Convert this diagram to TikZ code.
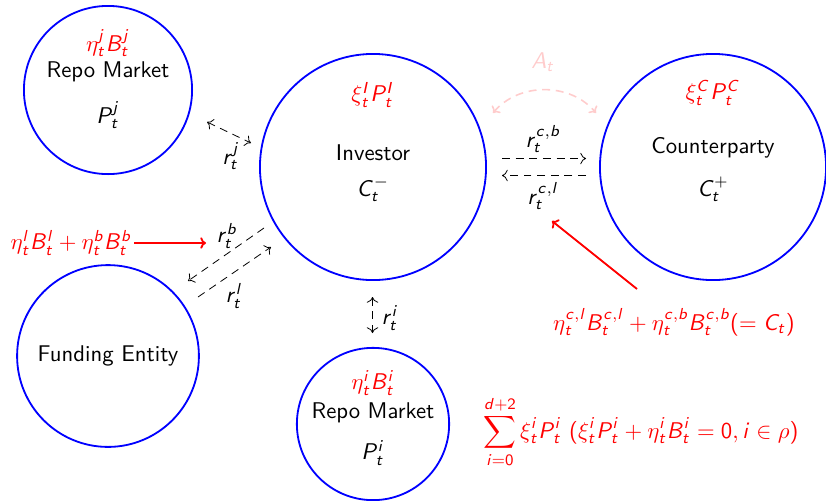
\documentclass[tikz,border=0pt]{standalone}
\usepackage{amsmath}
\usepackage{xcolor}
\usepackage{tikz}
\usetikzlibrary{positioning, arrows, arrows.meta, calc}
\renewcommand{\familydefault}{\sfdefault}
% sans serif math letters and digits, greek stays as it is
\DeclareSymbolFont{sfletters}{OT1}{cmss}{m}{sl}
\SetSymbolFont{operators}{normal}{OT1}{cmss}{m}{n}
\newcommand\sfletter[1]{\DeclareMathSymbol{#1}{\mathalpha}{sfletters}{`#1}}
\sfletter a\sfletter b\sfletter c\sfletter d\sfletter e\sfletter f\sfletter g
\sfletter h\sfletter i\sfletter j\sfletter k\sfletter l\sfletter m\sfletter n
\sfletter o\sfletter p\sfletter q\sfletter r\sfletter s\sfletter t\sfletter u
\sfletter v\sfletter w\sfletter x\sfletter y\sfletter z
\sfletter A\sfletter B\sfletter C\sfletter D\sfletter E\sfletter F\sfletter G
\sfletter H\sfletter I\sfletter J\sfletter K\sfletter L\sfletter M\sfletter N
\sfletter O\sfletter P\sfletter Q\sfletter R\sfletter S\sfletter T\sfletter U
\sfletter V\sfletter W\sfletter X\sfletter Y\sfletter Z

\begin{document}
\begin{tikzpicture}[
      x=0.44pt, y=-0.44pt,
      >={To[length=2.5pt, width=5pt]},
      agent/.style={draw=blue, line width=0.8pt, circle, inner sep=0pt},
      lbl/.style={inner sep=1pt},
      amount/.style={text=red, inner sep=1pt},
      flow/.style={dash pattern=on 3.5pt off 2.5pt, ->, line width=0.35pt},
      cash/.style={red, ->, line width=0.8pt}
    ]
      \useasboundingbox (0,0) rectangle (826,500);
      % circles
      \node[agent, minimum size=74pt] (repoj) at (108,90) {};
      \node[agent, minimum size=99.5pt] (inv) at (373,167) {};
      \node[agent, minimum size=99.5pt] (cpty) at (713,167) {};
      \node[agent, minimum size=80pt] (fund) at (108,356) {};
      \node[agent, minimum size=67pt] (repoi) at (373,424) {};

      % texts inside
      \node[amount] (repojamt) at (108,43) {$\eta_t^j B_t^j$};
      \node[lbl] (repojname) at (108,72) {Repo Market};
      \node[lbl] (repojprice) at (108,115) {$P_t^j$};
      \node[amount] (invamt) at (373,95) {$\xi_t^I P_t^I$};
      \node[lbl] (invname) at (373,153) {Investor};
      \node[lbl] (invcoll) at (373,189) {$C_t^-$};
      \node[amount] (cptyamt) at (713,93) {$\xi_t^C P_t^C$};
      \node[lbl] (cptyname) at (713,148) {Counterparty};
      \node[lbl] (cptycoll) at (713,189) {$C_t^+$};
      \node[lbl] (fundname) at (108,356) {Funding Entity};
      \node[amount] (repoiamt) at (373,383) {$\eta_t^i B_t^i$};
      \node[lbl] (repoiname) at (373,413) {Repo Market};
      \node[lbl] (repoiprice) at (373,453) {$P_t^i$};

      % rate arrows
      \coordinate (rj1) at (207,122);
      \coordinate (rj2) at (251,143);
      \draw[flow, <->] (rj1) -- (rj2);
      \node[lbl] (rjlbl) at (231,156) {$r_t^j$};

      \coordinate (rb1) at (264,228);
      \coordinate (rb2) at (188,281);
      \draw[flow] (rb1) -- (rb2);
      \node[lbl] (rblbl) at (227,236) {$r_t^b$};

      \coordinate (rl1) at (198,297);
      \coordinate (rl2) at (271,247);
      \draw[flow] (rl1) -- (rl2);
      \node[lbl] (rllbl) at (234,296) {$r_t^l$};

      \coordinate (ri1) at (372.5,297);
      \coordinate (ri2) at (372.5,333);
      \draw[flow, <->] (ri1) -- (ri2);
      \node[lbl] (rilbl) at (390,318) {$r_t^i$};

      \coordinate (rcb1) at (502,158.5);
      \coordinate (rcb2) at (586,158.5);
      \draw[flow] (rcb1) -- (rcb2);
      \node[lbl] (rcblbl) at (543,139) {$r_t^{c,b}$};

      \coordinate (rcl1) at (586,175.5);
      \coordinate (rcl2) at (502,175.5);
      \draw[flow] (rcl1) -- (rcl2);
      \node[lbl] (rcllbl) at (543,196) {$r_t^{c,l}$};

      % collateral exchange
      \coordinate (at1) at (493,113);
      \coordinate (at2) at (596,113);
      \draw[flow, <->, red!20, line width=0.7pt] (at1) to[bend left=50] (at2);
      \node[lbl, text=red!20] (atlbl) at (543,62) {$A_t$};

      % cash amounts
      \node[amount] (fundamt) at (71,243) {$\eta_t^l B_t^l + \eta_t^b B_t^b$};
      \coordinate (fundtip) at (206,243);
      \draw[cash] (fundamt.east) -- (fundtip);

      \node[amount] (cptyloan) at (674,322) {$\eta_t^{c,l} B_t^{c,l} + \eta_t^{c,b} B_t^{c,b} (= C_t)$};
      \coordinate (cptyfoot) at (637,289);
      \coordinate (cptytip) at (552,221);
      \draw[cash] (cptyfoot) -- (cptytip);

      \node[amount] (total) at (641,432) {$\displaystyle\sum_{i=0}^{d+2} \xi_t^i P_t^i \ (\xi_t^i P_t^i + \eta_t^i B_t^i = 0, i \in \rho)$};
    \end{tikzpicture}
\end{document}
